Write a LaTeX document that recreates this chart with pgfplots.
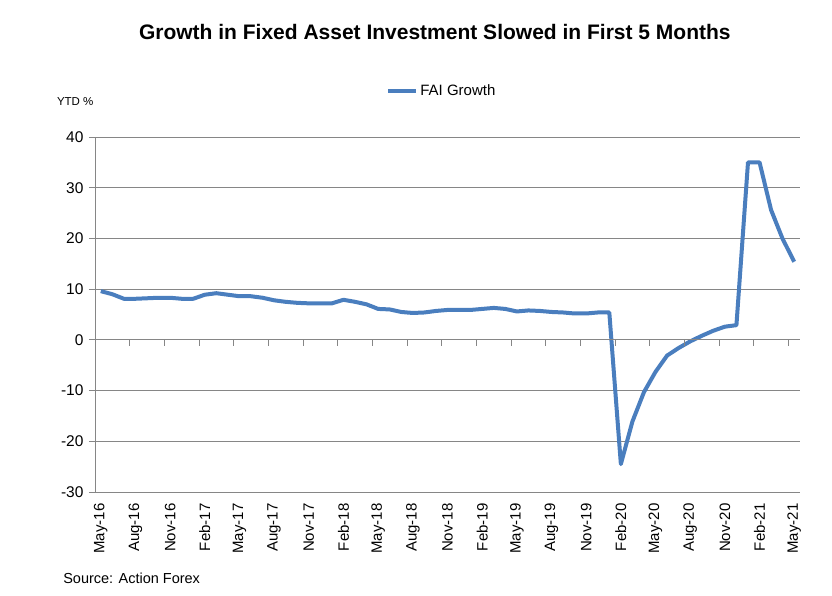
\documentclass[border=0pt]{standalone}
\usepackage{pgfplots}
\pgfplotsset{compat=1.18}
\usepackage{pgfplotstable}
\usepackage{fontspec}
\setmainfont{Liberation Sans}
\definecolor{fai}{RGB}{74,126,190}
\definecolor{gridgray}{RGB}{134,134,134}

% FAI growth, YTD %, index 0 = May-16 ... 60 = May-21
\pgfplotstableread{
idx val
0 9.6
1 9.0
2 8.1
3 8.1
4 8.2
5 8.3
6 8.3
7 8.1
8 8.1
9 8.9
10 9.2
11 8.9
12 8.6
13 8.6
14 8.3
15 7.8
16 7.5
17 7.3
18 7.2
19 7.2
20 7.2
21 7.9
22 7.5
23 7.0
24 6.1
25 6.0
26 5.5
27 5.3
28 5.4
29 5.7
30 5.9
31 5.9
32 5.9
33 6.1
34 6.3
35 6.1
36 5.6
37 5.8
38 5.7
39 5.5
40 5.4
41 5.2
42 5.2
43 5.4
44 5.4
45 -24.5
46 -16.1
47 -10.3
48 -6.3
49 -3.1
50 -1.6
51 -0.3
52 0.8
53 1.8
54 2.6
55 2.9
56 35.0
57 35.0
58 25.6
59 19.9
60 15.4
}\faidata

\begin{document}
\begin{tikzpicture}
\path[use as bounding box] (-95bp,-104bp) rectangle (737bp,492bp);
\begin{axis}[
    scale only axis,
    width=705bp, height=355bp,
    xmin=-0.5, xmax=60.5,
    ymin=-30, ymax=40,
    ytick={-30,-20,...,40},
    xtick={0,3,...,60},
    xticklabels={May-16,Aug-16,Nov-16,Feb-17,May-17,Aug-17,Nov-17,Feb-18,May-18,Aug-18,Nov-18,Feb-19,May-19,Aug-19,Nov-19,Feb-20,May-20,Aug-20,Nov-20,Feb-21,May-21},
    axis y line*=left,
    axis x line*=bottom,
    x axis line style={draw=none},
    y axis line style={draw=gridgray, line width=0.8pt},
    ymajorgrids,
    grid style={gridgray, line width=0.8pt},
    major x tick style={draw=none},
    major y tick style={gridgray, line width=0.8pt},
    ytick align=outside,
    major tick length=6bp,
    /pgf/number format/assume math mode=true,
    yticklabel style={font=\fontsize{15.5bp}{17bp}\selectfont, xshift=-2bp},
    xticklabel shift=8bp,
    xticklabel style={font=\fontsize{15bp}{16bp}\selectfont, rotate=90, anchor=east},
    legend style={at={(axis description cs:0.492,1.13)}, anchor=center, draw=none, fill=none,
        font=\fontsize{15bp}{17bp}\selectfont, inner sep=0pt},
    legend image code/.code={\draw[#1, line width=4bp] (0bp,0bp) -- (28bp,0bp);},
    legend cell align=left,
    clip=false,
]
\addplot[fai, line width=4bp, line join=round, no marks] table[x=idx, y=val] {\faidata};
\addlegendentry{FAI Growth}
\node[font=\bfseries\fontsize{21bp}{24bp}\selectfont] at (axis description cs:0.482,1.296) {Growth in Fixed Asset Investment Slowed in First 5 Months};
\node[font=\fontsize{11.5bp}{13bp}\selectfont] at (axis description cs:-0.028,1.101) {YTD \%};
\node[font=\fontsize{14.5bp}{16bp}\selectfont, anchor=west] at (axis description cs:-0.05,-0.242) {Source: Action Forex};
\end{axis}
\begin{axis}[
    scale only axis,
    width=705bp, height=355bp,
    xmin=-0.5, xmax=60.5,
    ymin=-30, ymax=40,
    axis x line=middle,
    axis y line=none,
    x axis line style={draw=gridgray, line width=0.8pt, -},
    xtick={2.5,5.5,...,59.5},
    xticklabels={},
    xtick align=outside,
    major tick length=6bp,
    major x tick style={gridgray, line width=0.8pt},
    ytick=\empty,
]
\end{axis}
\end{tikzpicture}
\end{document}
